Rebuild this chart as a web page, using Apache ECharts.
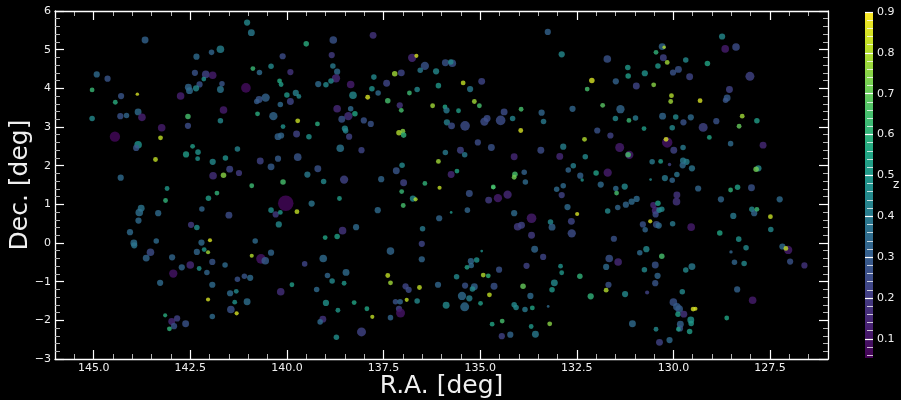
<!DOCTYPE html>
<html>
<head>
<meta charset="utf-8">
<script src="https://cdn.jsdelivr.net/npm/echarts@6/dist/echarts.min.js"></script>
<style>
  html, body { margin: 0; padding: 0; background: #000; }
  #chart { width: 901px; height: 400px; }
</style>
</head>
<body>
<div id="chart"></div>
<script>
// Source catalogue, split into sky blocks.
// Columns: R.A. [deg], Dec. [deg], redshift z, marker size
const eastNorth = [
  [143.67,5.25,0.32,20],[141.03,5.70,0.45,18],[140.92,5.44,0.40,20],[139.50,5.15,0.58,16],[141.72,5.01,0.42,22],
  [141.95,4.93,0.33,16],[142.34,4.82,0.35,18],[140.11,4.83,0.25,18],[140.88,4.51,0.62,14],[140.41,4.57,0.45,16],
  [140.71,4.41,0.35,16],[139.91,4.42,0.18,18],[144.92,4.36,0.35,18],[144.64,4.25,0.28,18],[142.38,4.40,0.27,18],
  [142.10,4.36,0.22,22],[141.92,4.34,0.12,22],[142.15,4.24,0.48,14],[142.26,4.10,0.27,18],[142.55,4.03,0.33,20],
  [142.52,3.94,0.35,20],[142.35,4.00,0.45,18],[141.68,4.12,0.28,16],[141.72,3.97,0.38,20],[141.06,4.01,0.08,28],
  [145.04,3.96,0.62,14],[143.87,3.85,0.85,10],[144.29,3.80,0.28,18],[144.44,3.64,0.58,14],[142.75,3.80,0.13,22],
  [140.19,4.19,0.57,14],[140.15,4.10,0.52,14],[139.77,3.88,0.42,18],[139.69,3.79,0.45,14],[140.00,3.83,0.50,16],
  [140.55,3.76,0.32,24],[140.72,3.71,0.28,20],[140.78,3.66,0.30,16],[139.91,3.66,0.23,20],[140.17,3.58,0.35,16],
  [143.85,3.39,0.35,20],[144.31,3.28,0.27,18],[144.15,3.30,0.33,16],[143.75,3.25,0.13,22],[145.04,3.22,0.45,16],
  [142.56,3.27,0.65,16],[141.64,3.44,0.12,22],[141.72,3.16,0.45,16],[140.76,3.34,0.58,14],[140.35,3.28,0.33,24],
  [139.72,3.16,0.83,14],[140.10,3.01,0.48,14],[143.24,2.98,0.12,22],[142.56,3.03,0.25,18],[144.45,2.75,0.07,30],
  [143.27,2.72,0.82,14],[140.23,2.75,0.32,20],[140.15,2.78,0.33,18],[139.75,2.82,0.22,20],[139.43,2.75,0.48,16],
  [143.85,2.54,0.48,22],[143.90,2.46,0.28,18],[142.44,2.50,0.52,14],[142.61,2.29,0.52,18],[142.30,2.35,0.48,16],
  [142.31,2.18,0.48,14],[141.28,2.43,0.43,16],[141.59,2.20,0.48,16],[141.92,2.10,0.45,18],[143.40,2.16,0.82,14],
  [140.23,2.18,0.30,18],[139.72,2.22,0.28,22],[140.69,2.12,0.22,20],[140.41,1.97,0.30,20],[141.48,1.91,0.23,20],
  [141.24,1.81,0.20,18],[141.91,1.74,0.17,22],[141.64,1.75,0.75,16],[144.30,1.69,0.35,18],[140.91,1.48,0.63,14],
  [140.10,1.58,0.65,16],[139.47,1.77,0.40,18],[143.10,1.41,0.50,14]
];

const eastSouth = [
  [143.14,1.10,0.60,14],[142.03,1.16,0.52,16],[141.81,1.29,0.60,14],[143.77,0.90,0.38,20],[143.82,0.79,0.36,22],
  [143.33,0.77,0.35,18],[143.84,0.58,0.35,18],[142.20,0.88,0.33,16],[141.50,0.72,0.25,20],[140.03,1.03,0.07,45],
  [140.41,0.85,0.47,16],[140.29,0.74,0.20,18],[140.17,0.79,0.50,14],[139.74,0.81,0.82,14],[140.21,0.48,0.45,18],
  [139.36,1.02,0.38,18],[144.06,0.28,0.35,18],[143.96,0.00,0.36,20],[143.95,-0.06,0.38,18],[143.38,0.05,0.35,16],
  [142.48,0.47,0.20,18],[142.33,0.40,0.47,16],[142.21,0.01,0.35,18],[141.99,0.07,0.85,12],[142.33,-0.23,0.33,18],
  [142.14,-0.17,0.50,14],[142.04,-0.24,0.78,12],[143.53,-0.24,0.25,22],[143.64,-0.39,0.33,20],[142.97,-0.37,0.33,18],
  [141.93,-0.49,0.28,18],[142.72,-0.63,0.33,18],[142.50,-0.57,0.15,22],[142.27,-0.66,0.48,14],[142.07,-0.76,0.33,16],
  [142.94,-0.79,0.10,24],[141.60,-0.57,0.35,16],[140.82,0.05,0.35,16],[140.91,-0.33,0.80,12],[140.67,-0.41,0.10,28],
  [140.56,-0.46,0.30,22],[140.41,-0.25,0.33,18],[139.54,-0.54,0.23,16],[143.28,-1.03,0.35,18],[141.28,-0.94,0.27,16],
  [141.10,-0.86,0.28,16],[140.95,-0.90,0.35,18],[141.93,-1.08,0.35,18],[141.47,-1.30,0.35,18],[141.31,-1.25,0.45,14],
  [141.35,-1.53,0.48,14],[141.03,-1.52,0.36,20],[142.04,-1.46,0.85,12],[141.45,-1.72,0.27,22],[141.30,-1.82,0.85,12],
  [141.93,-1.90,0.35,16],[140.16,-1.26,0.17,22],[139.87,-1.08,0.52,14],[143.15,-1.87,0.58,12],[142.98,-2.03,0.15,20],
  [142.84,-1.95,0.22,18],[142.92,-2.15,0.27,18],[143.04,-2.22,0.60,14],[142.62,-2.09,0.27,20]
];

const midNorth = [
  [138.80,5.25,0.27,22],[137.77,5.37,0.18,20],[138.84,4.86,0.20,18],[138.81,4.58,0.40,16],[138.70,4.43,0.35,18],
  [138.73,4.26,0.15,24],[138.86,4.19,0.45,16],[139.19,4.11,0.35,18],[138.99,4.09,0.45,16],[138.35,4.10,0.12,22],
  [137.75,4.29,0.45,16],[138.29,3.82,0.45,22],[137.91,3.77,0.85,14],[137.80,3.99,0.48,16],[137.64,3.88,0.35,16],
  [137.42,4.13,0.23,20],[137.39,3.68,0.65,16],[137.21,4.38,0.78,16],[137.04,4.40,0.23,20],[136.76,4.79,0.15,24],
  [136.65,4.84,0.85,12],[136.43,4.58,0.27,24],[136.55,4.47,0.40,16],[136.83,3.88,0.63,14],[136.63,3.97,0.45,16],
  [136.14,4.44,0.45,18],[135.90,4.66,0.27,20],[135.72,4.65,0.27,22],[135.76,4.68,0.45,16],[136.08,4.07,0.50,16],
  [135.44,4.14,0.82,14],[135.26,3.98,0.40,18],[134.96,4.18,0.23,20],[138.70,3.47,0.15,22],[138.35,3.47,0.35,16],
  [138.41,3.28,0.17,24],[138.58,3.20,0.27,20],[138.24,3.34,0.55,16],[139.21,3.08,0.58,14],[138.01,3.17,0.27,18],
  [137.83,3.08,0.27,18],[137.08,3.56,0.18,18],[137.04,3.43,0.65,14],[136.23,3.55,0.78,14],[135.91,3.52,0.55,14],
  [135.87,3.43,0.40,18],[135.56,3.42,0.52,14],[135.15,3.66,0.78,14],[135.02,3.55,0.65,14],[138.50,2.96,0.45,18],
  [138.48,2.90,0.43,16],[138.39,2.75,0.22,18],[135.86,3.12,0.42,18],[135.74,3.03,0.25,20],[135.39,3.03,0.25,28],
  [134.89,3.14,0.25,24],[134.82,3.22,0.25,20],[134.47,3.17,0.25,28],[134.38,3.39,0.25,20],[134.16,3.22,0.43,16],
  [133.94,3.46,0.65,14],[133.95,2.91,0.85,14],[133.41,3.37,0.33,18],[133.36,3.14,0.40,16],[133.25,5.46,0.32,18],
  [132.89,4.88,0.45,18],[132.61,3.47,0.33,18],[137.10,2.85,0.80,16],[137.00,2.89,0.75,14],[136.98,2.79,0.60,16],
  [138.62,2.45,0.38,22],[138.07,2.40,0.23,18],[139.20,1.92,0.27,20],[139.05,1.59,0.45,16],[138.52,1.64,0.22,24],
  [137.56,1.65,0.33,18],[137.17,1.87,0.28,20],[137.02,2.01,0.45,16],[136.98,1.56,0.22,20],[136.43,1.54,0.60,14],
  [136.05,1.43,0.82,12],[136.08,2.11,0.78,14],[135.90,2.34,0.40,16],[135.51,2.40,0.22,20],[135.40,2.28,0.40,16],
  [135.75,1.77,0.15,20],[135.60,1.86,0.55,14],[135.06,2.60,0.25,18],[134.71,2.47,0.27,20],[134.12,2.23,0.15,20],
  [133.43,2.40,0.25,20],[132.85,2.49,0.42,18],[132.94,2.24,0.15,20],[133.86,1.83,0.32,16],[134.10,1.78,0.65,16],
  [134.12,1.70,0.72,14],[133.83,1.58,0.35,16],[134.66,1.44,0.65,12],[132.72,1.89,0.33,16],[132.59,2.00,0.42,16],
  [132.85,1.48,0.35,16],[133.02,1.39,0.35,16]
];

const midSouth = [
  [137.03,1.33,0.62,14],[136.74,1.15,0.45,18],[136.67,1.13,0.80,12],[136.99,0.97,0.65,14],[138.64,1.15,0.52,14],
  [137.65,0.85,0.35,18],[136.06,0.64,0.33,18],[135.75,0.79,0.50,8],[135.33,0.85,0.33,16],[135.28,1.28,0.27,20],
  [134.66,1.45,0.65,14],[134.78,1.11,0.20,20],[134.54,1.16,0.12,24],[134.29,1.25,0.15,24],[132.89,1.24,0.22,18],
  [132.74,0.93,0.35,18],[134.12,0.77,0.35,18],[133.67,0.64,0.12,28],[134.03,0.42,0.20,22],[133.93,0.46,0.22,20],
  [133.18,0.54,0.45,16],[133.14,0.41,0.32,20],[133.67,0.20,0.20,20],[132.64,0.56,0.23,20],[132.63,0.25,0.25,24],
  [133.59,-0.16,0.33,20],[133.37,-0.36,0.23,18],[133.80,-0.59,0.22,18],[132.92,-0.60,0.48,14],[132.89,-0.77,0.50,14],
  [133.08,-1.03,0.45,20],[133.14,-1.21,0.50,16],[133.70,-1.37,0.35,18],[133.89,-1.12,0.70,16],[133.24,-1.64,0.35,8],
  [133.65,-1.68,0.55,14],[133.84,-1.72,0.40,16],[134.12,-1.60,0.45,16],[134.07,-1.67,0.45,16],[133.68,-2.16,0.50,14],
  [133.57,-2.36,0.40,20],[133.20,-2.09,0.75,14],[134.22,-2.37,0.33,18],[134.44,-2.41,0.22,18],[134.43,-2.02,0.65,14],
  [134.69,-2.10,0.55,14],[134.96,-0.21,0.48,8],[135.09,-0.44,0.48,16],[135.24,-0.47,0.33,18],[135.23,-0.58,0.35,16],
  [135.34,-0.63,0.53,14],[134.51,-0.69,0.27,18],[134.92,-0.83,0.80,14],[134.79,-0.85,0.60,14],[135.61,-0.87,0.45,16],
  [135.39,-1.10,0.27,18],[135.15,-1.13,0.32,20],[135.20,-1.19,0.45,16],[134.64,-1.12,0.27,20],[134.76,-1.34,0.82,14],
  [135.47,-1.37,0.35,24],[135.28,-1.43,0.42,18],[135.40,-1.65,0.35,26],[134.99,-1.56,0.52,14],[135.88,-1.61,0.45,20],
  [136.09,-1.08,0.33,18],[136.57,-1.15,0.82,14],[136.93,-1.12,0.23,18],[136.85,-1.21,0.25,18],[137.39,-0.84,0.82,14],
  [137.32,-1.03,0.78,14],[136.63,-1.50,0.45,16],[136.90,-1.47,0.82,12],[137.19,-1.52,0.27,16],[137.07,-1.52,0.33,16],
  [137.10,-1.70,0.22,18],[137.06,-1.81,0.10,26],[137.32,-1.93,0.33,16],[137.79,-1.91,0.82,12],[137.93,-1.70,0.55,14],
  [138.26,-1.54,0.55,14],[138.68,-1.74,0.50,14],[138.99,-1.55,0.48,18],[139.07,-1.97,0.18,20],[139.14,-2.04,0.35,16],
  [138.07,-2.30,0.22,26],[138.72,-2.44,0.47,16],[139.06,-0.40,0.35,22],[138.95,-0.84,0.33,16],[138.83,-0.98,0.45,16],
  [138.52,-1.04,0.50,14],[138.47,-0.76,0.35,20],[139.23,-1.20,0.35,16],[138.56,0.32,0.18,22],[138.70,0.17,0.53,16],
  [139.01,0.14,0.55,14],[138.21,0.41,0.35,18],[137.32,-0.21,0.33,22],[136.51,-0.02,0.23,18],[136.49,0.37,0.40,16],
  [136.51,-0.42,0.33,18]
];

const westNorth = [
  [128.74,5.34,0.45,18],[128.66,5.02,0.12,22],[128.38,5.07,0.25,22],[130.29,5.08,0.33,20],[130.24,5.06,0.80,10],
  [130.45,4.93,0.60,14],[131.71,4.76,0.27,22],[130.26,4.79,0.22,20],[130.16,4.67,0.78,14],[129.68,4.73,0.45,16],
  [129.12,4.64,0.55,16],[131.18,4.54,0.50,16],[130.40,4.58,0.50,16],[129.87,4.49,0.27,20],[130.01,4.41,0.27,18],
  [131.17,4.32,0.52,16],[130.74,4.39,0.48,18],[129.58,4.30,0.23,20],[128.02,4.31,0.22,26],[132.11,4.20,0.85,16],
  [132.23,3.98,0.65,14],[131.49,4.18,0.32,18],[130.96,4.06,0.23,20],[130.51,4.09,0.75,14],[130.05,3.81,0.80,14],
  [130.07,3.66,0.78,14],[129.31,3.68,0.85,14],[128.55,3.97,0.22,20],[128.61,3.75,0.30,20],[128.65,3.69,0.28,16],
  [131.83,3.56,0.68,14],[131.37,3.46,0.33,24],[131.50,3.22,0.45,16],[131.15,3.17,0.62,14],[130.98,3.23,0.40,16],
  [130.28,3.28,0.33,20],[129.94,3.26,0.45,16],[129.55,3.25,0.35,18],[129.74,3.12,0.27,18],[129.23,2.99,0.22,26],
  [128.89,3.15,0.27,18],[128.22,3.28,0.78,14],[128.30,3.02,0.70,14],[127.84,3.16,0.52,16],[131.97,2.91,0.27,18],
  [131.63,2.78,0.22,18],[130.76,2.96,0.52,14],[130.03,2.98,0.45,16],[132.30,2.68,0.80,14],[129.07,2.73,0.55,14],
  [131.39,2.47,0.12,26],[130.16,2.60,0.10,30],[130.19,2.68,0.85,14],[129.99,2.40,0.22,20],[129.75,2.47,0.40,16],
  [128.52,2.57,0.35,16],[127.68,2.53,0.15,20],[131.14,2.28,0.12,24],[131.17,2.28,0.65,16],[132.28,2.23,0.45,16],
  [130.55,2.10,0.40,16],[130.33,2.11,0.52,14],[129.75,2.13,0.40,18],[129.66,2.10,0.42,18],[129.76,2.01,0.35,18],
  [129.52,1.93,0.38,18],[130.10,2.03,0.22,10],[132.41,1.74,0.32,18],[132.36,1.63,0.48,10],[132.00,1.81,0.53,16],
  [131.70,1.82,0.12,24],[131.88,1.51,0.35,18],[131.26,1.46,0.45,18],[131.49,1.41,0.35,16],[130.59,1.64,0.45,8],
  [130.22,1.68,0.40,18],[130.03,1.62,0.33,16],[129.91,1.77,0.38,16],[129.36,1.41,0.33,18],[128.52,1.37,0.60,14],
  [128.34,1.44,0.53,16],[127.98,1.43,0.27,20],[127.80,1.93,0.45,18],[127.86,1.91,0.72,16]
];

const westSouth = [
  [131.47,1.29,0.65,14],[131.70,0.83,0.45,16],[131.44,0.92,0.33,16],[131.23,0.99,0.33,18],[131.08,1.07,0.35,18],
  [130.95,1.14,0.35,18],[132.49,0.75,0.85,12],[130.52,0.98,0.15,18],[130.40,1.03,0.52,16],[130.46,0.84,0.15,22],
  [130.37,0.85,0.45,16],[130.30,0.87,0.45,16],[130.46,0.74,0.25,18],[129.91,1.24,0.18,20],[129.92,1.07,0.18,22],
  [130.60,0.56,0.85,12],[130.79,0.48,0.27,18],[130.73,0.34,0.33,16],[130.44,0.48,0.27,20],[130.38,0.45,0.35,18],
  [130.02,0.50,0.40,16],[129.54,0.41,0.12,22],[128.77,1.13,0.33,18],[128.45,0.70,0.40,18],[127.97,0.87,0.45,16],
  [127.91,0.77,0.33,18],[127.84,0.87,0.63,14],[127.25,1.13,0.35,18],[127.49,0.68,0.83,14],[127.48,0.35,0.45,16],
  [128.80,0.26,0.55,16],[128.31,0.10,0.48,16],[128.12,-0.12,0.45,16],[128.51,-0.23,0.33,10],[128.42,-0.50,0.33,16],
  [128.17,-0.53,0.45,16],[127.18,-0.09,0.35,18],[127.03,-0.18,0.12,24],[127.09,-0.14,0.82,14],[126.98,-0.48,0.27,18],
  [126.61,-0.58,0.18,18],[131.54,0.11,0.27,18],[130.87,-0.25,0.35,16],[130.70,-0.16,0.45,18],[130.30,-0.34,0.65,16],
  [131.66,-0.40,0.27,22],[131.43,-0.49,0.15,22],[131.74,-0.62,0.35,18],[130.75,-0.69,0.45,16],[130.47,-0.57,0.27,20],
  [129.68,-0.70,0.45,16],[129.52,-0.61,0.40,20],[130.41,-0.85,0.33,18],[130.47,-1.04,0.28,18],[130.68,-1.28,0.22,12],
  [132.42,-0.86,0.60,16],[131.68,-1.08,0.27,18],[131.74,-1.22,0.80,14],[132.14,-1.38,0.60,18],[131.25,-1.32,0.45,18],
  [129.77,-1.26,0.45,16],[130.00,-1.53,0.27,22],[129.91,-1.65,0.30,22],[129.85,-1.71,0.30,22],[129.88,-1.84,0.53,16],
  [129.73,-1.84,0.18,20],[129.49,-1.71,0.85,14],[129.43,-1.70,0.85,12],[129.55,-1.99,0.48,20],[129.54,-2.08,0.50,16],
  [129.82,-2.10,0.32,20],[129.83,-2.21,0.28,18],[129.87,-2.23,0.52,14],[129.58,-2.29,0.52,16],[130.45,-2.23,0.45,14],
  [131.06,-2.09,0.35,20],[130.36,-2.57,0.22,20],[130.10,-2.51,0.35,18],[128.35,-1.20,0.32,18],[127.95,-1.48,0.12,22],
  [128.62,-1.94,0.55,14]
];

const sources = [].concat(eastNorth, eastSouth, midNorth, midSouth, westNorth, westSouth);

// Axis ranges and tick values
const raRange = [126, 146];
const decRange = [-3, 6];
const raMajorTicks = [127.5, 130, 132.5, 135, 137.5, 140, 142.5, 145];
const zRange = [0.053, 0.9];
const zMajorTicks = [0.1, 0.2, 0.3, 0.4, 0.5, 0.6, 0.7, 0.8, 0.9];
const zMinorTicks = [0.06, 0.08, 0.12, 0.14, 0.16, 0.18, 0.22, 0.24, 0.26, 0.28, 0.32, 0.34, 0.36, 0.38,
  0.42, 0.44, 0.46, 0.48, 0.52, 0.54, 0.56, 0.58, 0.62, 0.64, 0.66, 0.68, 0.72, 0.74, 0.76, 0.78,
  0.82, 0.84, 0.86, 0.88];

// viridis colour map
const viridis = ['#440154', '#482475', '#414487', '#355f8d', '#2a788e', '#21918c',
  '#22a884', '#44bf70', '#7ad151', '#bddf26', '#fde725'];

const FONT = 'DejaVu Sans';
const FG = '#f0f0f0';

const chart = echarts.init(document.getElementById('chart'), null, { renderer: 'canvas' });

const frameLine = { show: true, onZero: false, lineStyle: { color: '#ffffff', width: 1.3 } };
const majorTickStyle = { color: '#ffffff', width: 1.2 };
const minorTickStyle = { color: '#b4b4b4', width: 1 };

function raAxis(position, withLabels) {
  return [
    {
      gridIndex: 0, type: 'value', inverse: true, min: raRange[0], max: raRange[1],
      position: position, z: 5,
      axisLine: frameLine,
      axisTick: { show: true, inside: true, length: 9, customValues: raMajorTicks, lineStyle: majorTickStyle },
      axisLabel: withLabels ? {
        show: true, customValues: raMajorTicks, formatter: v => Number(v).toFixed(1),
        color: FG, fontFamily: FONT, fontSize: 11, margin: 4
      } : { show: false },
      splitLine: { show: false },
      name: withLabels ? 'R.A. [deg]' : '',
      nameLocation: 'middle', nameGap: 15, nameMoveOverlap: false,
      nameTextStyle: { color: FG, fontFamily: FONT, fontSize: 25, verticalAlign: 'top' }
    },
    {
      gridIndex: 0, type: 'value', inverse: true, min: raRange[0], max: raRange[1], interval: 0.5,
      position: position, z: 4,
      axisLine: { show: false, onZero: false },
      axisTick: { show: true, inside: true, length: 5, lineStyle: minorTickStyle },
      axisLabel: { show: false },
      splitLine: { show: false }
    }
  ];
}

function decAxis(position, withLabels) {
  return {
    gridIndex: 0, type: 'value', min: decRange[0], max: decRange[1], interval: 1,
    position: position, z: 5,
    axisLine: frameLine,
    axisTick: { show: true, inside: true, length: 9, lineStyle: majorTickStyle },
    minorTick: { show: true, splitNumber: 5, length: 5, lineStyle: minorTickStyle },
    axisLabel: withLabels ? {
      show: true, formatter: v => String(v).replace('-', '\u2212'),
      color: FG, fontFamily: FONT, fontSize: 11, margin: 4
    } : { show: false },
    splitLine: { show: false },
    minorSplitLine: { show: false },
    name: withLabels ? 'Dec. [deg]' : '',
    nameLocation: 'middle', nameGap: 22, nameMoveOverlap: false,
    nameTextStyle: { color: FG, fontFamily: FONT, fontSize: 25 }
  };
}

const option = {
  backgroundColor: '#000000',
  animation: false,
  grid: [
    { left: 55, top: 11, width: 773, height: 348, show: false, outerBoundsMode: 'none', containLabel: false },
    { left: 865, top: 12, width: 8, height: 346, show: false, outerBoundsMode: 'none', containLabel: false }
  ],
  xAxis: [
    ...raAxis('bottom', true),
    ...raAxis('top', false),
    { gridIndex: 1, type: 'value', min: 0, max: 1, show: false }
  ],
  yAxis: [
    decAxis('left', true),
    decAxis('right', false),
    {
      gridIndex: 1, type: 'value', min: zRange[0], max: zRange[1], position: 'right', z: 6,
      axisLine: { show: false, onZero: false },
      axisTick: { show: true, inside: true, length: 8, customValues: zMajorTicks,
        lineStyle: { color: '#ffffff', width: 1.2 } },
      axisLabel: { show: true, customValues: zMajorTicks, formatter: v => Number(v).toFixed(1),
        color: FG, fontFamily: FONT, fontSize: 11, margin: 4 },
      splitLine: { show: false },
      name: 'z', nameLocation: 'middle', nameGap: 20, nameRotate: 0, nameMoveOverlap: false,
      nameTextStyle: { color: FG, fontFamily: FONT, fontSize: 12, align: 'left', padding: [12, 0, 0, 0] }
    },
    {
      gridIndex: 1, type: 'value', min: zRange[0], max: zRange[1], position: 'right', z: 6,
      axisLine: { show: false, onZero: false },
      axisTick: { show: true, inside: true, length: 6, customValues: zMinorTicks,
        lineStyle: { color: 'rgba(255,255,255,0.75)', width: 1 } },
      axisLabel: { show: false },
      splitLine: { show: false }
    }
  ],
  visualMap: {
    type: 'continuous', show: false, seriesIndex: 0, dimension: 2,
    min: zRange[0], max: zRange[1],
    inRange: { color: viridis }
  },
  series: [
    {
      type: 'scatter',
      xAxisIndex: 0, yAxisIndex: 0,
      data: sources,
      dimensions: ['ra', 'dec', 'z', 'size'],
      encode: { x: 'ra', y: 'dec' },
      symbol: 'circle',
      symbolSize: v => v[3] / 2.9,
      itemStyle: { opacity: 0.8 },
      emphasis: { disabled: true },
      z: 2
    },
    {
      // colour bar spanning the z range
      type: 'custom',
      xAxisIndex: 4, yAxisIndex: 2,
      data: [[0, zRange[0], 1, zRange[1]]],
      dimensions: ['x0', 'z0', 'x1', 'z1'],
      encode: { x: ['x0', 'x1'], y: ['z0', 'z1'] },
      silent: true,
      clip: false,
      z: 2,
      renderItem: (params, api) => {
        const p0 = api.coord([api.value(0), api.value(3)]);
        const p1 = api.coord([api.value(2), api.value(1)]);
        const n = viridis.length;
        const stops = viridis.map((c, i) => ({ offset: i / (n - 1), color: viridis[n - 1 - i] }));
        return {
          type: 'rect',
          shape: { x: p0[0], y: p0[1], width: p1[0] - p0[0], height: p1[1] - p0[1] },
          style: { fill: new echarts.graphic.LinearGradient(0, 0, 0, 1, stops) }
        };
      }
    }
  ]
};

chart.setOption(option);
</script>
</body>
</html>
